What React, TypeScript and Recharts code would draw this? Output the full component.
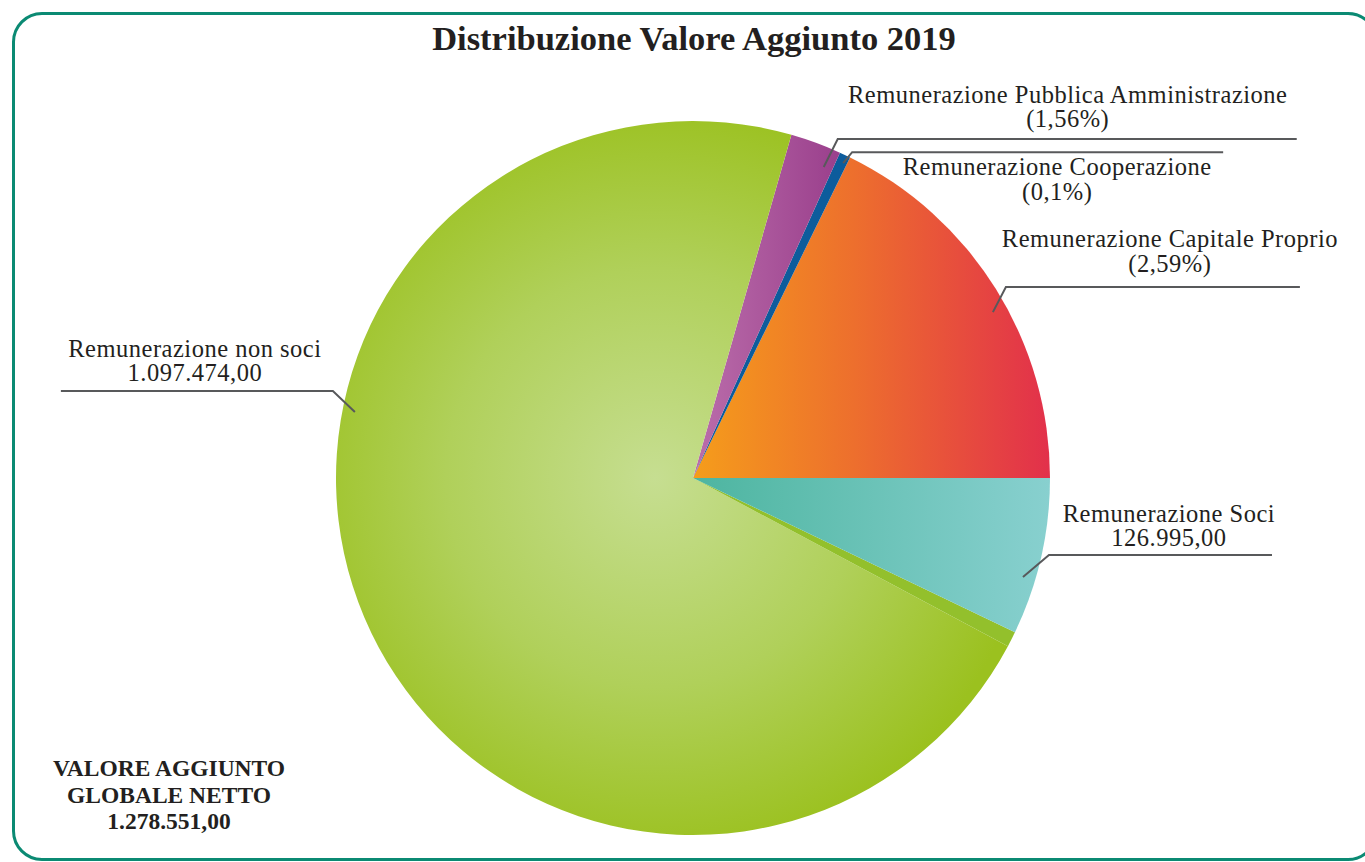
import { PieChart, Pie, Cell } from 'recharts';

// slices in drawing order, counter-clockwise from 3 o'clock
const sliceNames = [
  'Remunerazione Capitale Proprio',
  'Remunerazione Cooperazione',
  'Remunerazione Pubblica Amministrazione',
  'Remunerazione non soci',
  '',
  'Remunerazione Soci',
];
const sliceSubLabels = ['(2,59%)', '(0,1%)', '(1,56%)', '1.097.474,00', '', '126.995,00'];
// share of the circle as drawn in the picture (degrees)
const sliceShares = [63.9, 1.8, 8.3, 257.9, 2.5, 25.6];
const sliceFills = ['url(#gOrange)', '#0d5c9c', 'url(#gPurple)', 'url(#gGreen)', '#93c02c', 'url(#gTeal)'];

const titleText = 'Distribuzione Valore Aggiunto 2019';
const totalLines = ['VALORE AGGIUNTO', 'GLOBALE NETTO', '1.278.551,00'];

const data = sliceShares.map((v, i) => ({ name: sliceNames[i] || 'altro', value: v }));

// leader line layout per slice: anchor angle / radius fraction, elbow offset, line length, text offset
const labelLayout = [
  { angle: 28.95, rf: 0.96, ex: 13, ey: -25, len: 294, tx: 164, ty: -40 },
  { angle: 64.5, rf: 0.977, ex: 9, ey: -11, len: 371, tx: 205, ty: 23 },
  { angle: 67.2, rf: 0.945, ex: 14, ey: -28, len: 459, tx: 230, ty: -36 },
  { angle: 168.95, rf: 0.965, ex: -22, ey: -21, len: -272, tx: -138, ty: -34 },
  null,
  { angle: -16.7, rf: 0.965, ex: 26, ey: -22, len: 223, tx: 120, ty: -33 },
];

const RADIAN = Math.PI / 180;
const FONT = '"Liberation Serif", "Times New Roman", serif';

const renderLabel = (props: any) => {
  const { cx, cy, outerRadius, index } = props;
  const l = labelLayout[index];
  if (!l) return null;
  const r = outerRadius * l.rf;
  const ax = cx + r * Math.cos(-l.angle * RADIAN);
  const ay = cy + r * Math.sin(-l.angle * RADIAN);
  const bx = ax + l.ex;
  const by = ay + l.ey;
  const tx = bx + l.tx;
  return (
    <g>
      <polyline
        points={`${ax},${ay} ${bx},${by} ${bx + l.len},${by}`}
        fill="none"
        stroke="#58595b"
        strokeWidth={2}
      />
      <text textAnchor="middle" fontFamily={FONT} fontSize={24.5} letterSpacing={0.5} fill="#231f20">
        <tspan x={tx} y={by + l.ty}>{sliceNames[index]}</tspan>
        <tspan x={tx} y={by + l.ty + 24.5}>{sliceSubLabels[index]}</tspan>
      </text>
    </g>
  );
};

export default function App() {
  return (
    <div style={{ position: 'absolute', left: 0, top: 0, width: 1365, height: 862, overflow: 'hidden', background: '#fff' }}>
      <div
        style={{
          position: 'absolute',
          left: 12,
          top: 12,
          width: 1366,
          height: 849,
          border: '3px solid #0b8a73',
          borderRadius: 30,
          boxSizing: 'border-box',
        }}
      />
      <svg width={0} height={0} style={{ position: 'absolute' }}>
        <defs>
          <radialGradient id="gGreen" gradientUnits="userSpaceOnUse" cx={655} cy={478} r={380}>
            <stop offset="0%" stopColor="#c6de91" />
            <stop offset="55%" stopColor="#b0d05a" />
            <stop offset="100%" stopColor="#9bc11f" />
          </radialGradient>
          <linearGradient id="gOrange" x1="0" y1="0" x2="1" y2="0">
            <stop offset="0%" stopColor="#f59d1b" />
            <stop offset="45%" stopColor="#ed6f2d" />
            <stop offset="100%" stopColor="#e2304b" />
          </linearGradient>
          <linearGradient id="gTeal" x1="0" y1="0" x2="1" y2="0">
            <stop offset="0%" stopColor="#4db5a0" />
            <stop offset="100%" stopColor="#88d0cf" />
          </linearGradient>
          <linearGradient id="gPurple" x1="0" y1="0" x2="1" y2="0">
            <stop offset="0%" stopColor="#bb6eab" />
            <stop offset="100%" stopColor="#9a3f8c" />
          </linearGradient>
        </defs>
      </svg>
      <div style={{ position: 'absolute', left: 0, top: 0 }}>
        <PieChart width={1365} height={862} margin={{ top: 0, right: 0, bottom: 0, left: 0 }}>
          <Pie
            data={data}
            dataKey="value"
            cx={693}
            cy={478}
            outerRadius={357}
            startAngle={0}
            endAngle={360}
            stroke="none"
            label={renderLabel}
            labelLine={false}
            isAnimationActive={false}
          >
            {data.map((d, i) => (
              <Cell key={d.name + i} fill={sliceFills[i]} />
            ))}
          </Pie>
        </PieChart>
      </div>
      <svg width={1365} height={862} style={{ position: 'absolute', left: 0, top: 0, pointerEvents: 'none' }}>
        <text x={694} y={50} textAnchor="middle" fontFamily={FONT} fontWeight="bold" fontSize={34.5} fill="#231f20">
          {titleText}
        </text>
        <text textAnchor="middle" fontFamily={FONT} fontWeight="bold" fontSize={23.5} fill="#231f20">
          {totalLines.map((t, i) => (
            <tspan key={t} x={169} y={776 + i * 26.5}>
              {t}
            </tspan>
          ))}
        </text>
      </svg>
    </div>
  );
}
